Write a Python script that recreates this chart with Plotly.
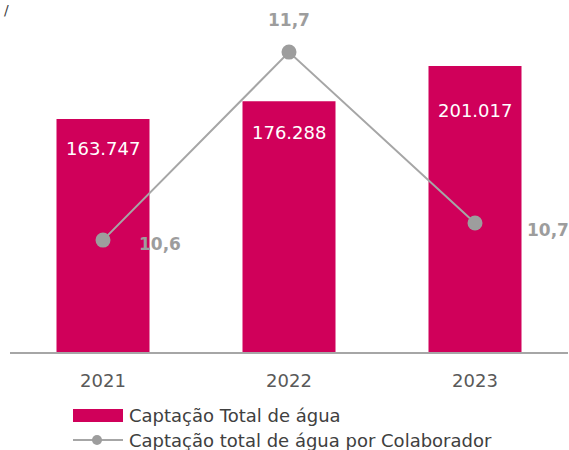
import plotly.graph_objects as go

# Water withdrawal data
years = ["2021", "2022", "2023"]
total_withdrawal = [163747, 176288, 201017]
total_labels = ["163.747", "176.288", "201.017"]
per_employee = [10.6, 11.7, 10.7]
per_employee_labels = ["10,6", "11,7", "10,7"]
series_names = ["Captação Total de água", "Captação total de água por Colaborador"]

FONT = "DejaVu Sans"
MAGENTA = "#d0005a"
GRAY_LINE = "#a6a6a6"
GRAY_MARK = "#9d9d9d"
W, H = 569, 450
M_L, M_R, M_T, M_B = 10, 1, 0, 98
PLOT_W = W - M_L - M_R
PLOT_H = H - M_T - M_B

fig = go.Figure()

fig.add_trace(go.Bar(
    x=years, y=total_withdrawal,
    name=series_names[0],
    marker=dict(color=MAGENTA, line=dict(width=0)),
    width=0.5,
    showlegend=False,
))

fig.add_trace(go.Scatter(
    x=years, y=per_employee,
    name=series_names[1],
    mode="lines+markers",
    line=dict(color=GRAY_LINE, width=2),
    marker=dict(color=GRAY_MARK, size=15),
    yaxis="y2",
    showlegend=False,
))

# Bar value labels, inside near the top of each bar
bar_label_drop = [-29, -31, -45]
for i, (v, lab, dy) in enumerate(zip(total_withdrawal, total_labels, bar_label_drop)):
    fig.add_annotation(
        x=i, y=v, text=lab, showarrow=False, yshift=dy,
        font=dict(color="white", size=18, family=FONT),
    )

# Value labels for the per-employee series
shifts = [(57, -4), (0, 32), (73, -7)]
for i, (v, lab, (dx, dy)) in enumerate(zip(per_employee, per_employee_labels, shifts)):
    fig.add_annotation(
        x=i, y=v, yref="y2", text=f"<b>{lab}</b>",
        showarrow=False, xshift=dx, yshift=dy,
        font=dict(color=GRAY_MARK, size=17, family=FONT),
    )

# Legend drawn below the axis (pixel positions -> paper coordinates)
def px_x(p):
    return (p - M_L) / PLOT_W

def px_y(p):
    return (H - M_B - p) / PLOT_H

fig.add_shape(type="rect", xref="paper", yref="paper",
              x0=px_x(73), x1=px_x(123), y0=px_y(422), y1=px_y(409),
              fillcolor=MAGENTA, line=dict(width=0))
fig.add_shape(type="line", xref="paper", yref="paper",
              x0=px_x(73), x1=px_x(123), y0=px_y(440), y1=px_y(440),
              line=dict(color=GRAY_LINE, width=2))
fig.add_shape(type="circle", xref="paper", yref="paper",
              x0=px_x(92), x1=px_x(102), y0=px_y(445), y1=px_y(435),
              fillcolor=GRAY_MARK, line=dict(width=0))
for name, yc in zip(series_names, [415, 440]):
    fig.add_annotation(
        xref="paper", yref="paper", x=px_x(127), y=px_y(yc),
        xanchor="left", yanchor="middle", text=name, showarrow=False,
        font=dict(color="#404040", size=18, family=FONT),
    )

# Small glyph at the top-left corner
fig.add_annotation(
    xref="paper", yref="paper", x=px_x(2), y=px_y(0),
    xanchor="left", yanchor="top", text="/", showarrow=False,
    font=dict(color="#404040", size=14, family=FONT),
)

fig.update_layout(
    width=W, height=H,
    margin=dict(l=M_L, r=M_R, t=M_T, b=M_B),
    plot_bgcolor="white", paper_bgcolor="white",
    showlegend=False,
    xaxis=dict(
        type="category",
        range=[-0.5, 2.5], showgrid=False, zeroline=False,
        showline=True, linecolor=GRAY_LINE, linewidth=2,
        ticks="", tickfont=dict(color="#595959", size=18, family=FONT),
        ticklabelstandoff=11,
    ),
    yaxis=dict(range=[0, 247400], visible=False, showgrid=False),
    yaxis2=dict(range=[9.945, 12.005], overlaying="y", visible=False, showgrid=False),
)

fig.write_html("out.html")
